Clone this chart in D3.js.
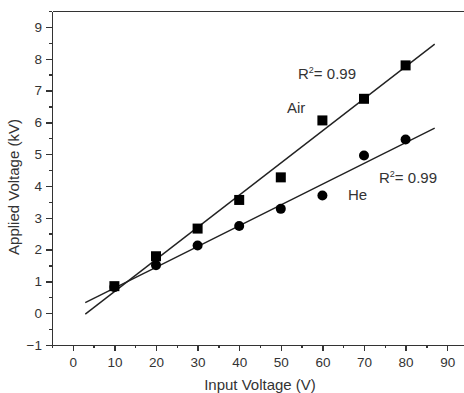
<!DOCTYPE html>
<meta charset="utf-8">
<style>

body {
  margin: 0;
  background: #fff;
  font-family: "Liberation Sans", Arial, sans-serif;
}

.axis path,
.axis line {
  stroke: #333;
  stroke-width: 1.4;
  shape-rendering: crispEdges;
}

.axis text {
  font: 13.5px "Liberation Sans", Arial, sans-serif;
  fill: #333;
}

.fit {
  fill: none;
  stroke: #222;
  stroke-width: 1.4;
}

.label {
  font: 15px "Liberation Sans", Arial, sans-serif;
  fill: #333;
}

</style>
<body>
<script src="https://d3js.org/d3.v7.min.js"></script>
<script>

// input voltage (V)
var inputV = [10, 20, 30, 40, 50, 60, 70, 80];
// applied voltage (kV)
var airV = [0.85, 1.79, 2.66, 3.56, 4.27, 6.06, 6.74, 7.79];
var heV = [0.82, 1.51, 2.13, 2.74, 3.28, 3.70, 4.96, 5.46];

// fit line end points
var airFit = [[3, -0.03], [87, 8.46]];
var heFit = [[3, 0.33], [87, 5.82]];

var xTicks = [0, 10, 20, 30, 40, 50, 60, 70, 80, 90];
var yTicks = [-1, 0, 1, 2, 3, 4, 5, 6, 7, 8, 9];

var W = 464, H = 393;

var x = d3.scaleLinear().domain([-5, 95]).range([52, 468]);
var y = d3.scaleLinear().domain([-1, 9.5]).range([345, 11]);

var svg = d3.select("body").append("svg")
    .attr("width", W)
    .attr("height", H);

// minor ticks
svg.append("g")
    .attr("class", "axis")
    .attr("transform", "translate(0," + y(-1) + ")")
    .call(d3.axisBottom(x).tickValues(d3.range(-5, 96, 5)).tickSize(3).tickFormat(""))
    .call(function(g) { g.select(".domain").remove(); });

svg.append("g")
    .attr("class", "axis")
    .attr("transform", "translate(" + x(-5) + ",0)")
    .call(d3.axisLeft(y).tickValues(d3.range(-1, 9.6, 0.5)).tickSize(3).tickFormat(""))
    .call(function(g) { g.select(".domain").remove(); });

// major ticks
svg.append("g")
    .attr("class", "axis")
    .attr("transform", "translate(0," + y(-1) + ")")
    .call(d3.axisBottom(x).tickValues(xTicks).tickSize(6).tickSizeOuter(0).tickPadding(6));

svg.append("g")
    .attr("class", "axis")
    .attr("transform", "translate(" + x(-5) + ",0)")
    .call(d3.axisLeft(y).tickValues(yTicks).tickSize(6).tickSizeOuter(0).tickPadding(4));

// top frame line
svg.append("g")
    .attr("class", "axis")
    .attr("transform", "translate(0," + y(9.5) + ")")
    .call(d3.axisTop(x).tickValues([]).tickSizeOuter(0));

var line = d3.line()
    .x(function(d) { return x(d[0]); })
    .y(function(d) { return y(d[1]); });

svg.append("path").attr("class", "fit").attr("d", line(airFit));
svg.append("path").attr("class", "fit").attr("d", line(heFit));

svg.selectAll("rect.air")
    .data(inputV)
  .enter().append("rect")
    .attr("class", "air")
    .attr("x", function(d) { return x(d) - 5; })
    .attr("y", function(d, i) { return y(airV[i]) - 5; })
    .attr("width", 10)
    .attr("height", 10)
    .attr("fill", "#000");

svg.selectAll("circle.he")
    .data(inputV)
  .enter().append("circle")
    .attr("class", "he")
    .attr("cx", function(d) { return x(d); })
    .attr("cy", function(d, i) { return y(heV[i]); })
    .attr("r", 5)
    .attr("fill", "#000");

function r2(tx, ty) {
  var t = svg.append("text").attr("class", "label").attr("x", tx).attr("y", ty);
  t.append("tspan").text("R");
  t.append("tspan").attr("dy", -6).style("font-size", "9px").text("2");
  t.append("tspan").attr("dy", 6).text("= 0.99");
}

r2(298, 79);
r2(379, 183);

svg.append("text").attr("class", "label").attr("x", 287).attr("y", 113).text("Air");
svg.append("text").attr("class", "label").attr("x", 348).attr("y", 200).text("He");

svg.append("text")
    .attr("class", "label")
    .attr("x", 260)
    .attr("y", 390)
    .attr("text-anchor", "middle")
    .text("Input Voltage (V)");

svg.append("text")
    .attr("class", "label")
    .attr("transform", "translate(19,187) rotate(-90)")
    .attr("text-anchor", "middle")
    .text("Applied Voltage (kV)");

</script>
